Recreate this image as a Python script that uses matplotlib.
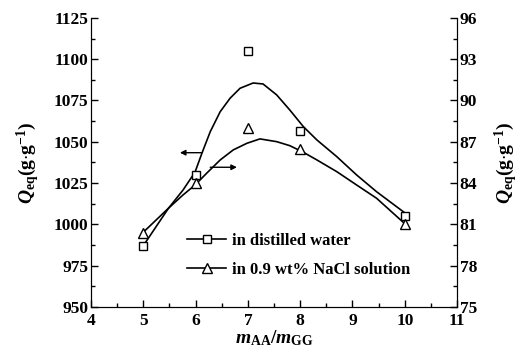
import matplotlib
matplotlib.use("Agg")
import matplotlib.pyplot as plt
from matplotlib.lines import Line2D
from matplotlib.ticker import MultipleLocator

plt.rcParams['font.family'] = ['Liberation Serif', 'DejaVu Serif']
plt.rcParams['font.weight'] = 'bold'
plt.rcParams['mathtext.fontset'] = 'custom'
plt.rcParams['mathtext.rm'] = 'Liberation Serif:bold'
plt.rcParams['mathtext.it'] = 'Liberation Serif:italic:bold'
plt.rcParams['mathtext.bf'] = 'Liberation Serif:bold'

# measured points
ratio = [5, 6, 7, 8, 10]
q_water = [987, 1030, 1105, 1056.5, 1005]      # left axis
q_nacl = [80.4, 84.0, 88.0, 86.5, 81.0]        # right axis

# fitted curves
fit_water_x = [5.0, 5.48, 5.76, 5.99, 6.12, 6.28, 6.47, 6.66, 6.85, 7.10, 7.29, 7.55,
               7.80, 8.06, 8.32, 8.70, 9.08, 9.46, 10.0]
fit_water_y = [987.1, 1009.7, 1020.8, 1031.7, 1043.0, 1056.1, 1068.2, 1076.4, 1082.4,
               1085.6, 1085.0, 1078.4, 1069.3, 1059.2, 1051.1, 1041.0, 1029.9, 1019.8,
               1007.0]
fit_nacl_x = [5.0, 5.48, 5.76, 5.99, 6.21, 6.47, 6.72, 6.98, 7.23, 7.55, 7.80, 8.06,
              8.32, 8.70, 9.08, 9.46, 10.0]
fit_nacl_y = [80.43, 82.17, 83.14, 83.86, 84.71, 85.68, 86.41, 86.89, 87.21, 87.01,
              86.72, 86.24, 85.68, 84.83, 83.86, 82.90, 81.05]

# arrows pointing to each axis
arrow_left = [(6.12, 1043.4), (5.70, 1043.4)]
arrow_right = [(6.28, 85.15), (6.79, 85.15)]

legend_labels = ['in distilled water', 'in 0.9 wt% NaCl solution']

fig = plt.figure(figsize=(5.2, 3.58), dpi=100)
ax = fig.add_axes([0.175, 0.1425, 0.704, 0.8075])
ax2 = ax.twinx()

ax.plot(fit_water_x, fit_water_y, color='black', linewidth=1.2)
ax.plot(ratio, q_water, linestyle='none', marker='s', mfc='white', mec='black', ms=5.5, mew=1)
ax2.plot(fit_nacl_x, fit_nacl_y, color='black', linewidth=1.2)
ax2.plot(ratio, q_nacl, linestyle='none', marker='^', mfc='white', mec='black', ms=7, mew=1)

ax.annotate('', xy=arrow_left[1], xytext=arrow_left[0],
            arrowprops=dict(arrowstyle='-|>', color='black', lw=1, mutation_scale=8,
                            shrinkA=0, shrinkB=0))
ax2.annotate('', xy=arrow_right[1], xytext=arrow_right[0],
             arrowprops=dict(arrowstyle='-|>', color='black', lw=1, mutation_scale=8,
                             shrinkA=0, shrinkB=0))

ax.set_xlim(4, 11)
ax.set_ylim(950, 1125)
ax2.set_ylim(75, 96)
ax.xaxis.set_major_locator(MultipleLocator(1))
ax.xaxis.set_minor_locator(MultipleLocator(0.5))
ax.yaxis.set_major_locator(MultipleLocator(25))
ax.yaxis.set_minor_locator(MultipleLocator(12.5))
ax2.yaxis.set_major_locator(MultipleLocator(3))
ax2.yaxis.set_minor_locator(MultipleLocator(1.5))

for a in (ax, ax2):
    a.spines['top'].set_visible(False)
    a.tick_params(which='both', direction='in', labelsize=12.5, width=1, pad=2)
    a.tick_params(which='major', length=5)
    a.tick_params(which='minor', length=3)
ax.tick_params(axis='x', which='both', top=False, pad=4)
ax.tick_params(axis='y', which='both', right=False)
for t in ax2.get_yticklabels():
    t.set_verticalalignment('center_baseline')

lbl = r'$Q_{\mathrm{eq}}\mathrm{(g{\cdot}g^{-1})}$'
ax.set_ylabel(lbl, fontsize=14, labelpad=8)
ax2.set_ylabel(lbl, fontsize=14, rotation=90, labelpad=11)
ax.set_xlabel(r'$m_{\mathrm{AA}}/m_{\mathrm{GG}}$', fontsize=14, labelpad=0)

handles = [
    Line2D([], [], color='black', linewidth=1.2, marker='s', mfc='white', mec='black', ms=5.5, mew=1),
    Line2D([], [], color='black', linewidth=1.2, marker='^', mfc='white', mec='black', ms=7, mew=1),
]
ax.legend(handles, legend_labels, loc='lower left', bbox_to_anchor=(0.222, 0.048),
          frameon=False, fontsize=12, handlelength=2.35, numpoints=1,
          labelspacing=0.8, handletextpad=0.35)

fig.savefig('out.png', dpi=100)
